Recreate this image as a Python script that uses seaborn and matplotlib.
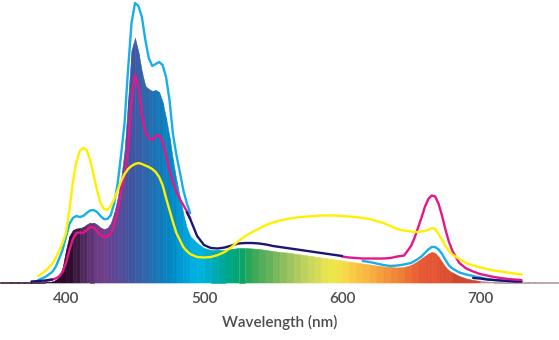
import matplotlib
matplotlib.use("Agg")
import matplotlib.pyplot as plt
import numpy as np
import pandas as pd
import seaborn as sns

N = None

# Common wavelength grid (nm)
WAVELENGTH = [
    352, 360, 365, 370, 375, 380, 385, 390,
    392.5, 395, 397.5, 400, 402.5, 405, 407.5, 410, 412.5, 415,
    417.5, 420, 422.5, 425, 427.5, 430, 432.5, 435, 437.5, 440,
    442.5, 445, 447.5, 450, 452.5, 455, 457.5, 460, 462.5, 465,
    467.5, 470, 472.5, 475, 477.5, 480, 482.5, 485, 487.5, 490,
    495, 500, 505, 510, 515, 520, 525, 530, 535, 540,
    545, 550, 555, 560, 565, 570, 575, 580, 585, 590,
    595, 600, 605, 610, 615, 620, 625, 630, 635, 640,
    645, 650, 652.5, 655, 657.5, 660, 662.5, 665, 667.5, 670,
    672.5, 675, 677.5, 680, 685, 690, 695, 700, 705, 710,
    715, 720, 725, 730, 735, 740, 745, 750, 757,
]

# Filled spectrum (relative intensity, arbitrary units)
SPECTRUM_FILL = [
    0.5, 0.5, 0.5, 0.5, 0.5, 0.5, 0.5, 1,
    2.5, 5.5, 14.5, 32.5, 46.5, 52.5, 54, 54.5, 55.5, 58,
    60, 60, 58, 55, 53.5, 54.5, 59.5, 70, 85, 104.5,
    132.5, 182.5, 232.5, 244.5, 230.5, 210.5, 196.5, 193.5, 191.5, 192.5,
    190.5, 180.5, 164.5, 145.5, 122.5, 102.5, 85.5, 68.5, 54.5, 46.5,
    39.5, 34.5, 32.5, 32.5, 32.5, 33.5, 34.5, 34.5, 34, 33.5,
    32.5, 31.5, 30.5, 30, 29, 28, 27, 26, 25, 24,
    23, 22, 21, 20, 19, 18, 17, 16, 15.5, 15,
    15.5, 17.5, 19.5, 21.5, 24, 26.5, 29, 30.5, 29.5, 25.5,
    20.5, 15.5, 12, 10, 6.5, 4, 2.5, 1.5, 1, 0.5,
    0.5, 0.5, 0.5, 0.5, 0.5, 0.5, 0.5, 0.5, 0.5,
]

CYAN = [
    N, N, N, N, N, 2.5, 5.5, 10.5,
    15.5, 23.5, 32.5, 45.5, 58.5, 64.5, 66.5, 65.5, 66.5, 69.5,
    72, 72.5, 70.5, 66.5, 63.5, 63.5, 67.5, 79.5, 99.5, 128.5,
    160.5, 213.5, 259.5, 279.5, 276.5, 265.5, 242.5, 224.5, 216.5, 218.5,
    220.5, 217.5, 205.5, 182.5, 148.5, 127.5, 110.5, 92.5, 79.5, 69.5,
    N, N, N, N, N, N, N, N, N, N,
    N, N, N, N, N, N, N, N, N, N,
    N, N, N, N, 21.5, 20.5, 19, 17.5, 16.5, 17,
    18, 19.5, 21.5, 23.5, 26, 29.5, 33, 35.5, 35.5, 33,
    28.5, 22.5, 17, 14, 10, 8, 6.5, 5, 3.5, 2.5,
    2, 1.5, 1.5, 1, N, N, N, N, N,
]

MAGENTA = [
    N, N, N, N, N, N, 1.5, 3,
    4, 6, 10.5, 19.5, 32.5, 43.5, 49.5, 50, 49.5, 52.5,
    55.5, 55, 51.5, 47.5, 45.5, 46, 49.5, 57.5, 72.5, 90.5,
    107.5, 132.5, 182.5, 207.5, 196, 168, 150.5, 144.5, 142.5, 146.5,
    147.5, 140.5, 127.5, 112.5, 100.5, 90.5, 83.5, 77.5, 71.5, 64,
    N, N, N, N, N, N, N, N, N, N,
    N, N, N, N, N, N, N, N, N, N,
    N, 26, 25, 24.5, 24, 24, 24, 24, 24.5, 26,
    27, 36.5, 44.5, 54.5, 64.5, 75.5, 83.5, 87, 86, 78.5,
    66.5, 52.5, 40.5, 31.5, 19.5, 14, 11, 8.5, 7, 5.5,
    4.5, 3.5, 3, 2.5, N, N, N, N, N,
]

YELLOW = [
    N, N, N, N, N, 6.5, 11.5, 18.5,
    24.5, 31.5, 39.5, 49.5, 72.5, 100.5, 120.5, 131.5, 134.5, 132.5,
    122.5, 107.5, 92.5, 79.5, 73.5, 72.5, 76.5, 83.5, 92.5, 101.5,
    108.5, 113.5, 116.5, 118.5, 119.5, 118.5, 117, 115.5, 113.5, 110.5,
    105.5, 97.5, 84.5, 72.5, 60.5, 49.5, 42.5, 35.5, 31.5, 28.5,
    25.5, 25, 25.5, 27.5, 30.5, 35.5, 41.5, 46.5, 50.5, 54,
    57.5, 60, 62, 63.5, 64.5, 65.5, 66, 66.5, 67, 67,
    67, 66.5, 66, 65.5, 64.5, 63.5, 61.5, 59.5, 56.5, 53.5,
    52, 51, 50.5, 50.5, 51, 51.5, 52.5, 54.5, 53.5, 48.5,
    42.5, 36.5, 31.5, 28, 23.5, 19.5, 17, 15, 13.5, 12,
    11, 10, 9, 8, N, N, N, N, N,
]

NAVY = [
    N, N, N, N, 1, 1.5, 2, 3,
    N, N, N, N, N, N, N, N, N, N,
    N, N, N, N, N, N, N, N, N, N,
    N, N, N, N, N, N, N, N, N, N,
    N, N, N, N, N, N, N, N, 70.5, 63.5,
    46.5, 37.5, 34.5, 34, 35, 37, 39, 39.5, 39.5, 39,
    38, 36.5, 35.5, 34.5, 33.5, 32.5, 31.5, 30.5, 29.5, 28.5,
    27.5, 26.5, N, N, N, N, N, N, N, N,
    N, N, N, N, N, N, N, N, N, N,
    N, N, N, N, N, N, 4.5, 4, 3, 2.5,
    2, 1.5, 1, 1, N, N, N, N, N,
]

# Spectral colour bands of the fill (band start in nm, colour)
BAND_START = [352, 400, 405, 410, 415, 420, 425, 430, 435, 440, 445, 450, 455,
              460, 465, 470, 475, 480, 485, 490, 495, 500, 505, 510, 515, 520,
              525, 530, 535, 540, 545, 550, 555, 560, 565, 570, 575, 580, 585,
              590, 595, 600, 605, 610, 615, 620, 625, 630, 635, 640, 645, 650,
              655, 660, 670, 680, 700]
BAND_COLOR = ['#2a0a28', '#2e0c2c', '#3d1a42', '#4f2a5c', '#5e3372', '#6b3c85',
              '#6f3f89', '#634494', '#574a98', '#4c509d', '#4156a2', '#385ea7',
              '#2d66ab', '#2170b2', '#1379b8', '#0a82bf', '#008bc7', '#0097d2',
              '#00a2da', '#00afe0', '#00b2dc', '#00aecb', '#00aab4', '#00a99d',
              '#00a88a', '#03a676', '#0ea366', '#28a65a', '#3faa58', '#55ad5a',
              '#66b25c', '#7ab85c', '#8dbe5e', '#9fc45f', '#aecb5f', '#bdd15d',
              '#cad85b', '#d6dc56', '#e5e34f', '#ede64a', '#f1e24a', '#f6d848',
              '#f9cb45', '#f9c144', '#f8b642', '#f7ab40', '#f59f3d', '#f3943a',
              '#f18938', '#ef7e36', '#ec7034', '#e96534', '#e75934', '#e55533',
              '#dc5032', '#cc4832', '#b09090']

# name, values, colour, zorder (for the blue-green region), zorder (for the red tail)
SERIES = [("Cyan", CYAN, '#1aaee6', 3, 3),
          ("Magenta", MAGENTA, '#e5168b', 5, 5),
          ("Navy", NAVY, '#1b1670', 5.5, 4),
          ("Yellow", YELLOW, '#fff000', 6, 6)]

X_TICKS = [400, 500, 600, 700]
X_LABEL = "Wavelength (nm)"

sns.set_theme(style="white")
plt.rcParams['font.family'] = ['Lato', 'DejaVu Sans']

fig = plt.figure(figsize=(5.59, 3.40), dpi=100)
ax = fig.add_axes([0, 0.1691, 1, 0.8309])

wl = np.array(WAVELENGTH, dtype=float)
fill = np.array(SPECTRUM_FILL, dtype=float)

for i in range(len(wl) - 1):
    mid = 0.5 * (wl[i] + wl[i + 1])
    k = int(np.searchsorted(BAND_START, mid, side='right') - 1)
    c = BAND_COLOR[k]
    ax.fill_between(wl[i:i + 2], 0, fill[i:i + 2], facecolor=c,
                    edgecolor=c, linewidth=0.4, zorder=1)

for name, vals, color, z_main, z_tail in SERIES:
    df = pd.DataFrame({"wl": WAVELENGTH, "v": vals})
    df["v"] = pd.to_numeric(df["v"])
    valid = df["v"].notna()
    seg_id = (valid != valid.shift()).cumsum()
    for _, seg in df[valid].groupby(seg_id[valid]):
        z = z_tail if seg["wl"].min() > 650 else z_main
        sns.lineplot(data=seg, x="wl", y="v", color=color, linewidth=1.7,
                     ax=ax, zorder=z, estimator=None, sort=False,
                     clip_on=False, solid_capstyle='round')

ax.set_xlim(352.2, 757.2)
ax.set_ylim(0, 282.5)
for s in ax.spines.values():
    s.set_visible(False)
ax.set_yticks([])
ax.set_ylabel("")
ax.set_xticks(X_TICKS)
ax.set_xticklabels([str(t) for t in X_TICKS])
ax.tick_params(axis='x', length=0, pad=7, labelsize=11, labelcolor='#4d4d4d')
for lbl in ax.get_xticklabels():
    lbl.set_fontweight('semibold')
ax.set_xlabel(X_LABEL, fontsize=11, color='#4d4d4d', fontweight='semibold',
              labelpad=6)
ax.grid(False)

fig.savefig("out.png", dpi=100)
